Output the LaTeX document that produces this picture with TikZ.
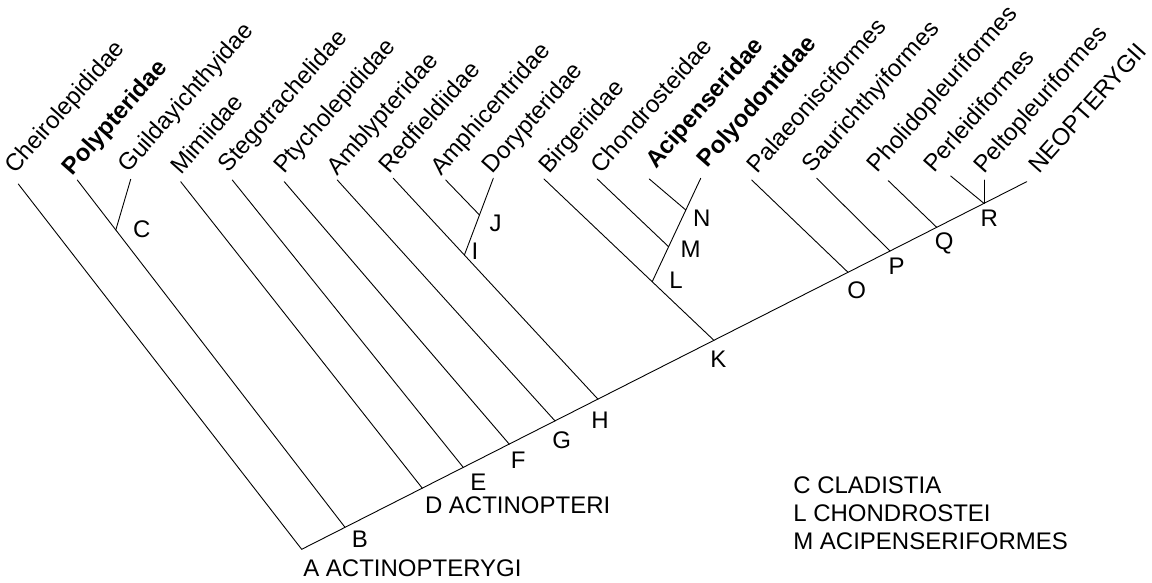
\documentclass[tikz,border=0pt]{standalone}
\usepackage{fontspec}
\setmainfont{Liberation Sans}
\begin{document}
\begin{tikzpicture}[x=1pt,y=-1pt,
  br/.style={line width=0.9pt, line cap=round},
  tx/.style={font=\fontsize{24}{28}\selectfont, inner sep=0pt, outer sep=0pt},
  taxon/.style={tx, rotate=48.5, anchor=base west},
  bold taxon/.style={taxon, font=\fontsize{24}{28}\selectfont\bfseries},
  lab/.style={tx, anchor=center},
  wlab/.style={tx, anchor=west}]
\useasboundingbox (0,0) rectangle (1152,582);
% spine points
\coordinate (A) at (301.7,549.3);
\coordinate (B) at (345,527.3);
\coordinate (D) at (422.3,488.2);
\coordinate (E) at (463.3,467.4);
\coordinate (F) at (509.3,444.2);
\coordinate (G) at (555,420.9);
\coordinate (H) at (598,399.2);
\coordinate (K) at (714,340.4);
\coordinate (O) at (848,272.3);
\coordinate (P) at (890,251);
\coordinate (Q) at (936.7,227.3);
\coordinate (R) at (984,203.4);
\coordinate (Z) at (1026.7,181.7);
% tips
\coordinate (t1) at (18.3,184);
\coordinate (t2) at (77.3,180);
\coordinate (t3) at (130.7,179.3);
\coordinate (t4) at (180.7,181.7);
\coordinate (t5) at (232.3,180);
\coordinate (t6) at (284.3,181.7);
\coordinate (t7) at (337.3,180);
\coordinate (t8) at (393.3,178.3);
\coordinate (t9) at (445.7,180);
\coordinate (t10) at (493.3,178.3);
\coordinate (t11) at (544,179);
\coordinate (t12) at (597.3,179);
\coordinate (t13) at (649.3,179);
\coordinate (t14) at (700.7,178.3);
\coordinate (t15) at (751.7,180);
\coordinate (t16) at (816.7,178.3);
\coordinate (t17) at (888.3,180.7);
\coordinate (t18) at (950.7,176);
\coordinate (t19) at (984,180);
% inner nodes on branches
\coordinate (C) at (115.8,230);
\coordinate (I) at (464.4,255);
\coordinate (J) at (479.5,215);
\coordinate (L) at (652.2,281.7);
\coordinate (M) at (668.6,246.7);
\coordinate (N) at (685.8,210);
% branches
\draw[br] (A) -- (Z);
\draw[br] (A) -- (t1);
\draw[br] (B) -- (t2);
\draw[br] (C) -- (t3);
\draw[br] (D) -- (t4);
\draw[br] (E) -- (t5);
\draw[br] (F) -- (t6);
\draw[br] (G) -- (t7);
\draw[br] (H) -- (t8);
\draw[br] (I) -- (t10);
\draw[br] (J) -- (t9);
\draw[br] (K) -- (t11);
\draw[br] (L) -- (t14);
\draw[br] (M) -- (t12);
\draw[br] (N) -- (t13);
\draw[br] (O) -- (t15);
\draw[br] (P) -- (t16);
\draw[br] (Q) -- (t17);
\draw[br] (R) -- (t18);
\draw[br] (R) -- (t19);
% taxon labels
\node[taxon] (n1) at (15.3,174.8) {Cheirolepididae};
\node[bold taxon] (n2) at (72.7,176.5) {Polypteridae};
\node[taxon] (n3) at (128.7,173.2) {Guildayichthyidae};
\node[taxon] (n4) at (181,175.5) {Mimiidae};
\node[taxon] (n5) at (228.7,173.2) {Stegotrachelidae};
\node[taxon] (n6) at (284.3,174.8) {Ptycholepididae};
\node[taxon] (n7) at (337.7,176.5) {Amblypteridae};
\node[taxon] (n8) at (389.3,174.8) {Redfieldiidae};
\node[taxon] (n9) at (441,176.5) {Amphicentridae};
\node[taxon] (n10) at (492.7,174.8) {Dorypteridae};
\node[taxon] (n11) at (549.3,174.8) {Birgeriidae};
\node[taxon] (n12) at (601,174.8) {Chondrosteidae};
\node[bold taxon] (n13) at (656,169.8) {Acipenseridae};
\node[bold taxon] (n14) at (707.7,168.2) {Polyodontidae};
\node[taxon] (n15) at (757.7,174.8) {Palaeonisciformes};
\node[taxon] (n16) at (812.7,173.2) {Saurichthyiformes};
\node[taxon] (n17) at (877.7,173.2) {Pholidopleuriformes};
\node[taxon] (n18) at (934.3,173.2) {Perleidiformes};
\node[taxon] (n19) at (984.3,174.8) {Peltopleuriformes};
\node[taxon] (n20) at (1039.3,174.8) {NEOPTERYGII};
% node letters
\node[wlab] (lA) at (303.3,568.3) {A ACTINOPTERYGI};
\node[lab] (lB) at (360,539.3) {B};
\node[lab] (lC) at (141.7,229.3) {C};
\node[wlab] (lD) at (425,505) {D ACTINOPTERI};
\node[lab] (lE) at (478.3,482.7) {E};
\node[lab] (lF) at (518.3,460.7) {F};
\node[lab] (lG) at (561.7,440.7) {G};
\node[lab] (lH) at (600,420.7) {H};
\node[lab] (lI) at (475,251.7) {I};
\node[lab] (lJ) at (495.7,223.3) {J};
\node[lab] (lK) at (718.3,359.3) {K};
\node[lab] (lL) at (676,280) {L};
\node[lab] (lM) at (690.7,249.3) {M};
\node[lab] (lN) at (701.7,218.3) {N};
\node[lab] (lO) at (856.7,290) {O};
\node[lab] (lP) at (896.7,266.7) {P};
\node[lab] (lQ) at (944.3,243.3) {Q};
\node[lab] (lR) at (989.3,218.3) {R};
% legend
\node[wlab] (g1) at (793.3,485) {C CLADISTIA};
\node[wlab] (g2) at (793.3,513.3) {L CHONDROSTEI};
\node[wlab] (g3) at (793.3,541.7) {M ACIPENSERIFORMES};
\end{tikzpicture}
\end{document}
